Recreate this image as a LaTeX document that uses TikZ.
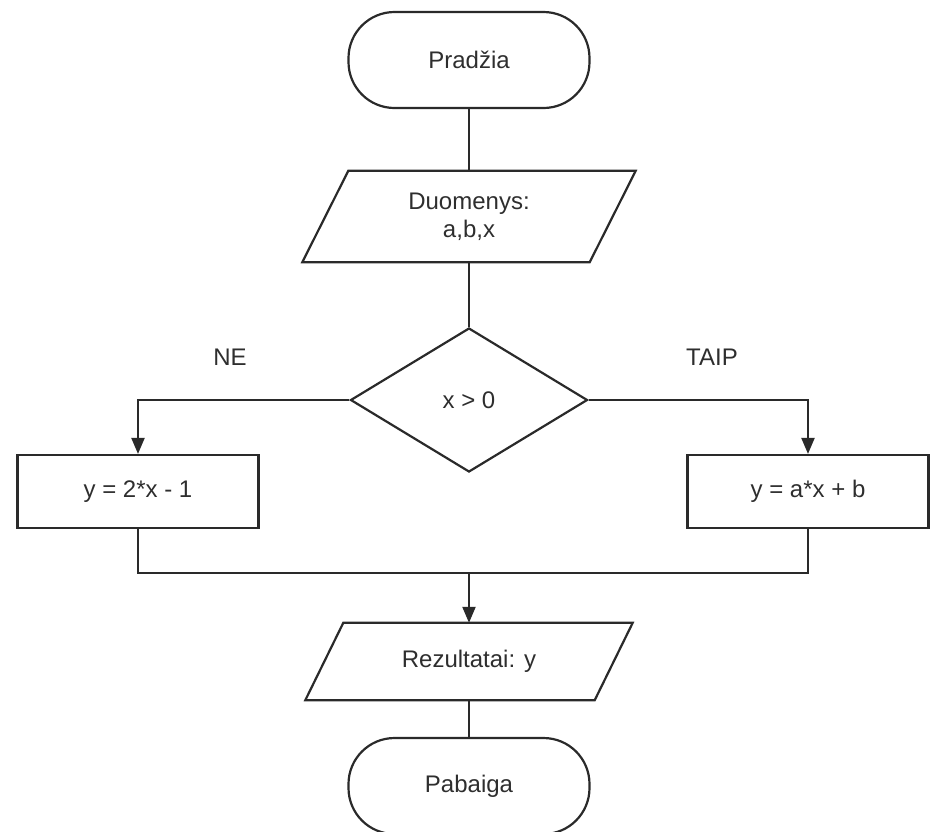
\documentclass[tikz,border=0pt]{standalone}
\usepackage{fontspec}
\setmainfont{Liberation Sans}
\usetikzlibrary{shapes.geometric,arrows.meta}
\definecolor{linecol}{HTML}{2A2A2A}
\definecolor{txtcol}{HTML}{2E2E2E}
\begin{document}
\begin{tikzpicture}[x=1pt,y=-1pt,
  every node/.style={font=\fontsize{24}{28}\selectfont, text=txtcol},
  ln/.style={draw=linecol, line width=2.2pt},
  arr/.style={ln, -{Triangle[length=16pt,width=13pt]}},
  term/.style={ln, rectangle, rounded corners=46pt, minimum width=241pt, minimum height=96pt, inner sep=0pt},
  iobox/.style={rectangle, draw=none, inner sep=0pt, align=center},
  procbox/.style={ln, rectangle, minimum width=241pt, minimum height=73pt, inner sep=0pt},
  decbox/.style={ln, diamond, aspect=1.65, minimum width=237pt, minimum height=144pt, inner sep=0pt},
  lbl/.style={draw=none}
]
\useasboundingbox (0,0) rectangle (934,831);
\clip (0,0) rectangle (934,831);

% nodes
\node[term] (start) at (469,60) {Pradžia};
\node[iobox, minimum width=287pt, minimum height=91pt] (in) at (469,216.5) {Duomenys:\\a,b,x};
\node[decbox] (dec) at (469,400) {x > 0};
\node[procbox] (left) at (138,491.5) {y = 2*x - 1};
\node[procbox] (right) at (808,491.5) {y = a*x + b};
\node[iobox, minimum width=289pt, minimum height=77pt] (out) at (469,661.5) {Rezultatai: y};
\node[term] (stop) at (469,786) {Pabaiga};
\node[lbl] (ne) at (230,357) {NE};
\node[lbl] (taip) at (712,357) {TAIP};
\coordinate (merge) at (469,573);

% parallelogram outlines
\draw[ln, line join=miter] ([xshift=23pt]in.north west) -- ([xshift=23pt]in.north east)
  -- ([xshift=-23pt]in.south east) -- ([xshift=-23pt]in.south west) -- cycle;
\draw[ln, line join=miter] ([xshift=19pt]out.north west) -- ([xshift=19pt]out.north east)
  -- ([xshift=-19pt]out.south east) -- ([xshift=-19pt]out.south west) -- cycle;

% connectors
\draw[ln] (start.south) -- (in.north);
\draw[ln] (in.south) -- (dec.north);
\draw[arr] (dec.west) -| (left.north);
\draw[arr] (dec.east) -| (right.north);
\draw[ln] (left.south) |- (merge);
\draw[ln] (right.south) |- (merge);
\draw[arr] (merge) -- (out.north);
\draw[ln] (out.south) -- (stop.north);
\end{tikzpicture}
\end{document}
